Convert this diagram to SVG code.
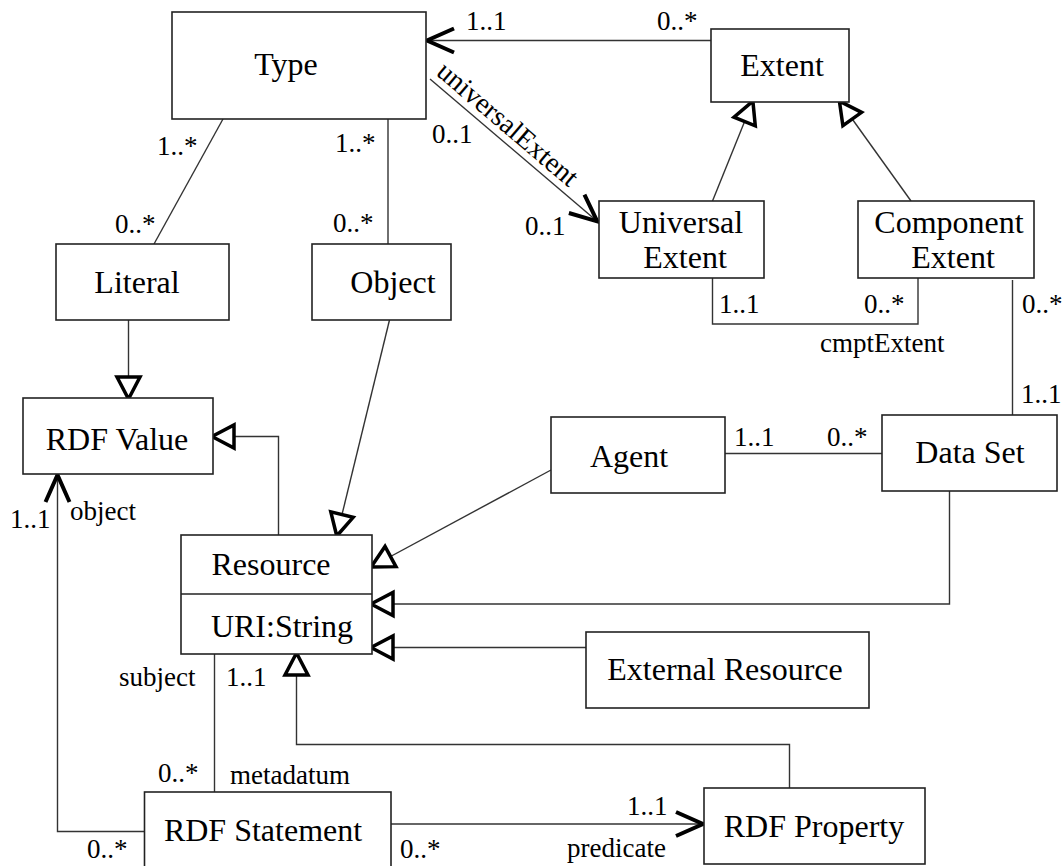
<svg xmlns="http://www.w3.org/2000/svg" width="1063" height="866" viewBox="0 0 1063 866">
<style>
.box{fill:#fff;stroke:#222;stroke-width:1.6}
.nt{font-family:"Liberation Serif","Times New Roman",serif;font-size:32px;fill:#000;text-anchor:middle}
.lb{font-family:"Liberation Serif","Times New Roman",serif;font-size:27px;fill:#000}
.ln{fill:none;stroke:#333;stroke-width:1.4}
</style>
<defs>
<marker id="gen" markerUnits="userSpaceOnUse" markerWidth="40" markerHeight="40" viewBox="-30 -20 40 40" refX="-1" refY="0" orient="auto">
<path d="M0,0 L-22,-11.5 L-22,11.5 Z" fill="#fff" stroke="#000" stroke-width="3.5" stroke-linejoin="miter"/>
</marker>
<marker id="open" markerUnits="userSpaceOnUse" markerWidth="40" markerHeight="40" viewBox="-35 -20 40 40" refX="0" refY="0" orient="auto">
<path d="M-28,-12 L-1,0 L-28,12" fill="none" stroke="#000" stroke-width="4" stroke-linejoin="miter"/>
</marker>
</defs>

<g id="connectors">
<line class="ln" x1="223" y1="119" x2="154" y2="244"/>
<line class="ln" x1="388" y1="119" x2="388" y2="244"/>
<line class="ln" x1="711" y1="40.5" x2="426" y2="40.5" marker-end="url(#open)"/>
<line class="ln" x1="430" y1="79" x2="598" y2="222" marker-end="url(#open)"/>
<line class="ln" x1="712.5" y1="201" x2="752.5" y2="102" marker-end="url(#gen)"/>
<line class="ln" x1="911" y1="201" x2="840" y2="102" marker-end="url(#gen)"/>
<polyline class="ln" points="712.5,278 712.5,324 918,324 918,278"/>
<line class="ln" x1="1012.5" y1="280" x2="1012.5" y2="415"/>
<line class="ln" x1="725" y1="453.5" x2="882" y2="453.5"/>
<line class="ln" x1="128.5" y1="320" x2="128.5" y2="398" marker-end="url(#gen)"/>
<line class="ln" x1="389.5" y1="320" x2="337" y2="535" marker-end="url(#gen)"/>
<polyline class="ln" points="278.5,535 278.5,436.5 213,436.5" marker-end="url(#gen)"/>
<line class="ln" x1="551" y1="470" x2="372" y2="566.5" marker-end="url(#gen)"/>
<polyline class="ln" points="949.5,491 949.5,604 372,604" marker-end="url(#gen)"/>
<line class="ln" x1="586" y1="647.5" x2="372" y2="647.5" marker-end="url(#gen)"/>
<polyline class="ln" points="789.5,788 789.5,744.5 296.5,744.5 296.5,654" marker-end="url(#gen)"/>
<line class="ln" x1="214.5" y1="654" x2="214.5" y2="792"/>
<polyline class="ln" points="144.5,831.5 57.5,831.5 57.5,474" marker-end="url(#open)"/>
<line class="ln" x1="391" y1="824" x2="704" y2="824" marker-end="url(#open)"/>
</g>

<g id="labels">
<text class="lb" x="157" y="155">1..*</text>
<text class="lb" x="115" y="233">0..*</text>
<text class="lb" x="335" y="152">1..*</text>
<text class="lb" x="333" y="232">0..*</text>
<text class="lb" x="466" y="30">1..1</text>
<text class="lb" x="657" y="30">0..*</text>
<text class="lb" x="432" y="143">0..1</text>
<text class="lb" x="525" y="235">0..1</text>
<text class="lb" transform="translate(435,74) rotate(40.4)" style="font-size:28px">universalExtent</text>
<text class="lb" x="719" y="313">1..1</text>
<text class="lb" x="864" y="313">0..*</text>
<text class="lb" x="1022" y="313">0..*</text>
<text class="lb" x="820" y="352">cmptExtent</text>
<text class="lb" x="1021" y="403">1..1</text>
<text class="lb" x="734" y="446">1..1</text>
<text class="lb" x="827" y="446">0..*</text>
<text class="lb" x="10" y="528">1..1</text>
<text class="lb" x="70" y="520">object</text>
<text class="lb" x="119" y="686">subject</text>
<text class="lb" x="226" y="686">1..1</text>
<text class="lb" x="158" y="782">0..*</text>
<text class="lb" x="230" y="784">metadatum</text>
<text class="lb" x="87" y="858">0..*</text>
<text class="lb" x="400" y="858">0..*</text>
<text class="lb" x="627" y="815">1..1</text>
<text class="lb" x="567" y="857">predicate</text>
</g>

<g id="type"><rect class="box" x="172" y="12" width="254" height="107"/><text class="nt" x="286" y="75">Type</text></g>
<g id="extent"><rect class="box" x="711" y="29" width="138" height="73"/><text class="nt" x="782" y="76">Extent</text></g>
<g id="universal-extent"><rect class="box" x="599" y="201" width="165" height="77"/><text class="nt" x="681" y="233">Universal</text><text class="nt" x="685" y="268">Extent</text></g>
<g id="component-extent"><rect class="box" x="858" y="201" width="176" height="77"/><text class="nt" x="949" y="233">Component</text><text class="nt" x="953" y="268">Extent</text></g>
<g id="literal"><rect class="box" x="56" y="244" width="173" height="76"/><text class="nt" x="137" y="293">Literal</text></g>
<g id="object"><rect class="box" x="312" y="244" width="139" height="76"/><text class="nt" x="393" y="293">Object</text></g>
<g id="rdf-value"><rect class="box" x="23" y="398" width="190" height="76"/><text class="nt" x="117" y="450">RDF Value</text></g>
<g id="agent"><rect class="box" x="551" y="417" width="174" height="76"/><text class="nt" x="629" y="467">Agent</text></g>
<g id="data-set"><rect class="box" x="882" y="415" width="175" height="76"/><text class="nt" x="970" y="463">Data Set</text></g>
<g id="resource"><rect class="box" x="181" y="535" width="191" height="119"/><line x1="181" y1="594" x2="372" y2="594" stroke="#222" stroke-width="1.6"/><text class="nt" x="271" y="575">Resource</text><text class="nt" x="282" y="637">URI:String</text></g>
<g id="external-resource"><rect class="box" x="586" y="632" width="283" height="76"/><text class="nt" x="725" y="680">External Resource</text></g>
<g id="rdf-statement"><rect class="box" x="144.5" y="792" width="246.5" height="80"/><text class="nt" x="263" y="841">RDF Statement</text></g>
<g id="rdf-property"><rect class="box" x="704" y="788" width="221" height="76"/><text class="nt" x="814" y="837">RDF Property</text></g>
</svg>
